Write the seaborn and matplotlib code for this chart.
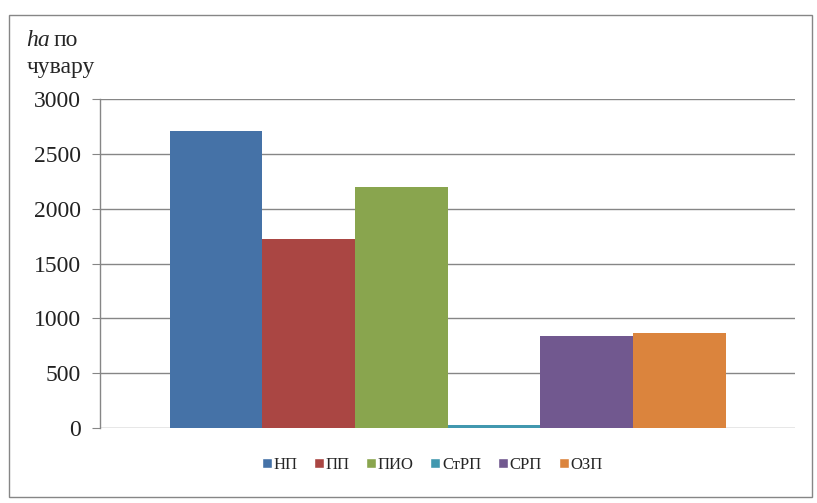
import matplotlib
matplotlib.use("Agg")
import matplotlib.pyplot as plt
import seaborn as sns
import pandas as pd
from matplotlib.patches import Rectangle

# values
series = ["НП", "ПП", "ПИО", "СтРП", "СРП", "ОЗП"]
values = [2710, 1720, 2200, 30, 840, 870]
colors = ["#4572A7", "#AA4643", "#89A54E", "#4198AF", "#71588F", "#DB843D"]
yticks = [0, 500, 1000, 1500, 2000, 2500, 3000]

df = pd.DataFrame({"group": ["1"] * len(series), "series": series, "value": values})

sns.set_style("white")
plt.rcParams["font.family"] = ["Liberation Serif", "DejaVu Serif"]

fig = plt.figure(figsize=(8.17, 5.03), dpi=100)
ax = fig.add_axes([0.1224, 0.149, 0.851, 0.654])

sns.barplot(data=df, x="group", y="value", hue="series", palette=colors,
            hue_order=series, width=0.8, saturation=1, linewidth=0,
            ax=ax, legend=False)

ax.set_xlim(-0.5, 0.5)
ax.set_ylim(0, 3000)
ax.set_yticks(yticks)
ax.set_yticklabels([str(t) for t in yticks], fontsize=17, color="#222222")
ax.set_xticks([])
ax.set_xlabel("")
ax.set_ylabel("")
ax.yaxis.grid(True, color="#868686", linewidth=1)
ax.set_axisbelow(True)
ax.tick_params(axis="y", direction="out", length=6, color="#868686", pad=8, left=True)
for side in ["top", "right", "bottom"]:
    ax.spines[side].set_visible(False)
ax.spines["left"].set_color("#868686")
ax.spines["left"].set_linewidth(1)

# y axis caption in the top left corner
fig.text(26 / 817, 1 - 40 / 503, "ha", fontsize=17, style="italic", va="center", ha="left")
fig.text(54 / 817, 1 - 40 / 503, "по", fontsize=17, va="center", ha="left")
fig.text(27 / 817, 1 - 68 / 503, "чувару", fontsize=17, va="center", ha="left")

# legend at the bottom
handles = [Rectangle((0, 0), 1, 1, facecolor=c) for c in colors]
fig.legend(handles, series, loc="center", bbox_to_anchor=(432 / 817, 1 - 465 / 503),
           ncol=6, frameon=False, fontsize=12, handlelength=0.6, handleheight=0.6,
           handletextpad=0.1, columnspacing=1.0)

# outer chart border
fig.patches.append(Rectangle((9 / 817, 6 / 503), 803 / 817, 482 / 503, transform=fig.transFigure,
                             fill=False, edgecolor="#868686", linewidth=1))

fig.savefig("out.png", dpi=100)
